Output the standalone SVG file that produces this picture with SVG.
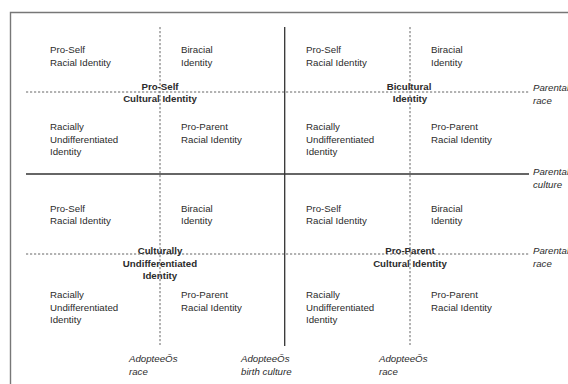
<svg xmlns="http://www.w3.org/2000/svg" width="568" height="384" viewBox="0 0 568 384">
  <style>
    text { font-family: "Liberation Sans", Arial, Helvetica, sans-serif; font-size: 9.7px; fill: #2b2b2b; }
    .b { font-weight: bold; text-anchor: middle; }
    .i { font-style: italic; }
    .solid { stroke: #333; stroke-width: 1.3; fill: none; }
    .dash { stroke: #666; stroke-width: 1; stroke-dasharray: 2.2 1.8; fill: none; }
    .frame { stroke: #777; stroke-width: 1.4; fill: none; }
  </style>
  <rect width="568" height="384" fill="#fff"/>
  <!-- outer frame (right and bottom edges run off the page) -->
  <path class="frame" d="M10.5 390 V12.5 H570"/>

  <g id="connectors">
    <!-- axes: culture (solid) and race (dashed) -->
    <line class="solid" x1="284.7" y1="27" x2="284.7" y2="346"/>
    <line class="solid" x1="26" y1="174" x2="529" y2="174"/>
    <line class="dash" x1="160" y1="27" x2="160" y2="345"/>
    <line class="dash" x1="410" y1="27" x2="410" y2="345"/>
    <line class="dash" x1="26" y1="92" x2="529" y2="92"/>
    <line class="dash" x1="26" y1="254" x2="529" y2="254"/>
  </g>

  <!-- top-left quadrant -->
  <g id="tl-proself"><text x="50" y="53">Pro-Self</text><text x="50" y="65.5">Racial Identity</text></g>
  <g id="tl-biracial"><text x="181" y="53">Biracial</text><text x="181" y="65.5">Identity</text></g>
  <g id="tl-culture"><text class="b" x="160" y="89.5">Pro-Self</text><text class="b" x="160" y="101.5">Cultural Identity</text></g>
  <g id="tl-undiff"><text x="50" y="130">Racially</text><text x="50" y="142.5">Undifferentiated</text><text x="50" y="155">Identity</text></g>
  <g id="tl-proparent"><text x="181" y="130">Pro-Parent</text><text x="181" y="142.5">Racial Identity</text></g>

  <!-- top-right quadrant -->
  <g id="tr-proself"><text x="306" y="53">Pro-Self</text><text x="306" y="65.5">Racial Identity</text></g>
  <g id="tr-biracial"><text x="431" y="53">Biracial</text><text x="431" y="65.5">Identity</text></g>
  <g id="tr-culture"><text class="b" x="409" y="89.5">Bicultural</text><text class="b" x="410" y="101.5">Identity</text></g>
  <g id="tr-undiff"><text x="306" y="130">Racially</text><text x="306" y="142.5">Undifferentiated</text><text x="306" y="155">Identity</text></g>
  <g id="tr-proparent"><text x="431" y="130">Pro-Parent</text><text x="431" y="142.5">Racial Identity</text></g>

  <!-- bottom-left quadrant -->
  <g id="bl-proself"><text x="50" y="211.5">Pro-Self</text><text x="50" y="224">Racial Identity</text></g>
  <g id="bl-biracial"><text x="181" y="211.5">Biracial</text><text x="181" y="224">Identity</text></g>
  <g id="bl-culture"><text class="b" x="160" y="254">Culturally</text><text class="b" x="160" y="266.5">Undifferentiated</text><text class="b" x="160" y="279">Identity</text></g>
  <g id="bl-undiff"><text x="50" y="298">Racially</text><text x="50" y="310.5">Undifferentiated</text><text x="50" y="323">Identity</text></g>
  <g id="bl-proparent"><text x="181" y="298">Pro-Parent</text><text x="181" y="310.5">Racial Identity</text></g>

  <!-- bottom-right quadrant -->
  <g id="br-proself"><text x="306" y="211.5">Pro-Self</text><text x="306" y="224">Racial Identity</text></g>
  <g id="br-biracial"><text x="431" y="211.5">Biracial</text><text x="431" y="224">Identity</text></g>
  <g id="br-culture"><text class="b" x="410" y="254">Pro-Parent</text><text class="b" x="410" y="266.5">Cultural Identity</text></g>
  <g id="br-undiff"><text x="306" y="298">Racially</text><text x="306" y="310.5">Undifferentiated</text><text x="306" y="323">Identity</text></g>
  <g id="br-proparent"><text x="431" y="298">Pro-Parent</text><text x="431" y="310.5">Racial Identity</text></g>

  <!-- axis labels -->
  <g id="axis-parental-race-top"><text class="i" x="533" y="91">Parental</text><text class="i" x="533" y="103.5">race</text></g>
  <g id="axis-parental-culture"><text class="i" x="533" y="175">Parental</text><text class="i" x="533" y="187.5">culture</text></g>
  <g id="axis-parental-race-bottom"><text class="i" x="533" y="254">Parental</text><text class="i" x="533" y="266.5">race</text></g>
  <g id="axis-adoptee-race-left"><text class="i" x="129" y="362">AdopteeÕs</text><text class="i" x="129" y="374.5">race</text></g>
  <g id="axis-adoptee-culture"><text class="i" x="241" y="362">AdopteeÕs</text><text class="i" x="241" y="374.5">birth culture</text></g>
  <g id="axis-adoptee-race-right"><text class="i" x="379" y="362">AdopteeÕs</text><text class="i" x="379" y="374.5">race</text></g>
</svg>
